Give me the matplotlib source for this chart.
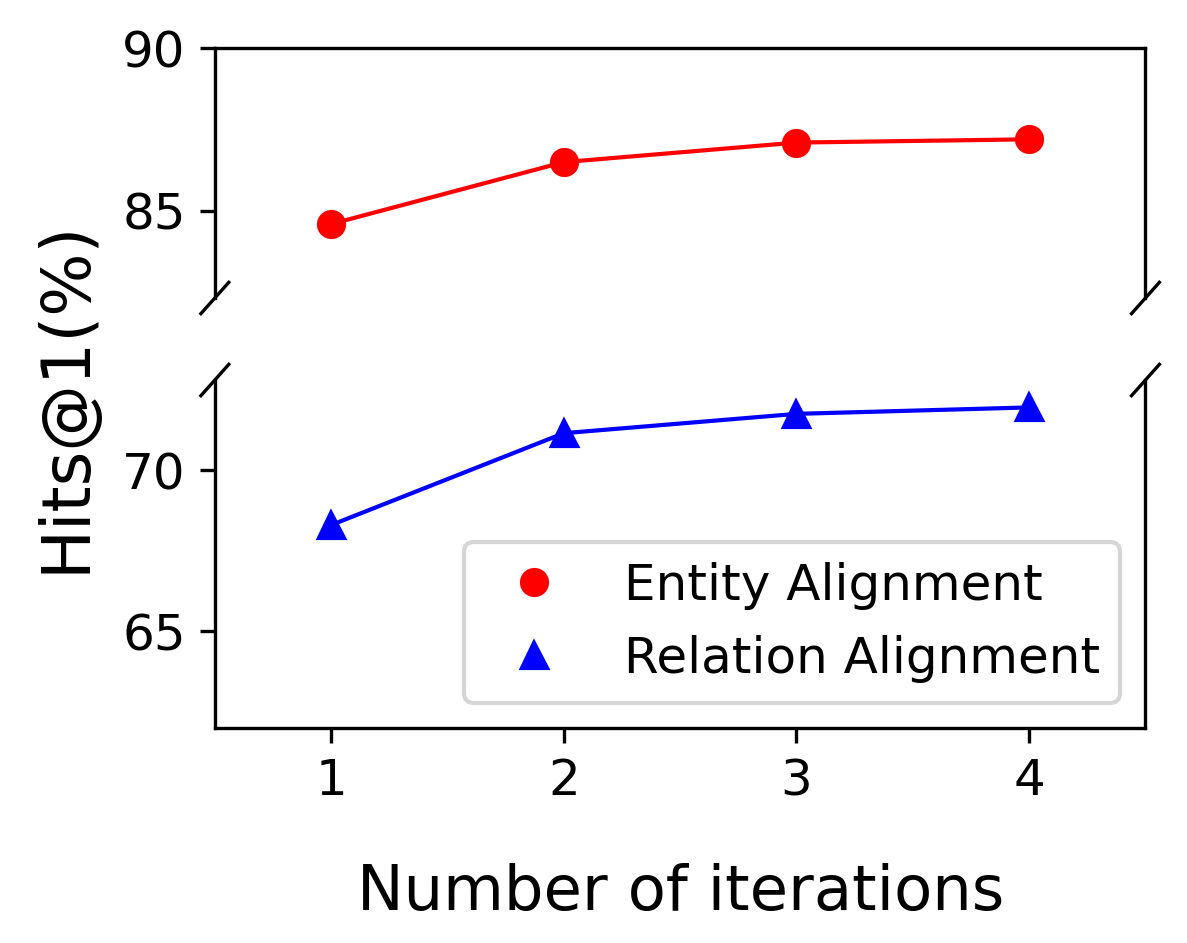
import matplotlib
matplotlib.use("Agg")
import matplotlib.pyplot as plt
from matplotlib.lines import Line2D

iterations = [1, 2, 3, 4]
entity = [84.6, 86.5, 87.1, 87.2]
relation = [68.3, 71.15, 71.75, 71.95]
xticks = [1, 2, 3, 4]

fig = plt.figure(figsize=(1187/300, 943/300), dpi=300)
L, R = 0.181, 0.965
h1 = 0.949-0.684
h2 = 0.597-0.228
ax1 = fig.add_axes([L, 0.684, R-L, h1])
ax2 = fig.add_axes([L, 0.228, R-L, h2])

ax1.plot(iterations, entity, color='red', marker='o', markersize=6, linewidth=1)
ax2.plot(iterations, relation, color='blue', marker='^', markersize=6, linewidth=1)
ax1.set_ylim(82.33, 90)
ax2.set_ylim(62, 72.8)
ax1.set_yticks([85, 90])
ax2.set_yticks([65, 70])
for ax in (ax1, ax2):
    ax.set_xlim(0.5, 4.5)
    ax.tick_params(labelsize=12)
ax1.spines['bottom'].set_visible(False)
ax2.spines['top'].set_visible(False)
ax1.set_xticks([])
ax2.set_xticks(xticks)

d = 0.015
kw = dict(color='k', clip_on=False, linewidth=0.8)
dy1 = 0.045 * h2 / h1
ax1.plot((-d, d), (-dy1, dy1), transform=ax1.transAxes, **kw)
ax1.plot((1-d, 1+d), (-dy1, dy1), transform=ax1.transAxes, **kw)
ax2.plot((-d, d), (1-0.045, 1+0.045), transform=ax2.transAxes, **kw)
ax2.plot((1-d, 1+d), (1-0.045, 1+0.045), transform=ax2.transAxes, **kw)

ax2.set_xlabel('Number of iterations', fontsize=15, labelpad=14)
fig.text(0.055, 0.58, 'Hits@1(%)', rotation=90, fontsize=16, va='center', ha='center')

handles = [Line2D([], [], color='red', marker='o', linestyle='none', markersize=6),
           Line2D([], [], color='blue', marker='^', linestyle='none', markersize=6)]
ax2.legend(handles, ['Entity Alignment', 'Relation Alignment'], loc='lower right', fontsize=12)

fig.savefig('out.png', dpi=300)
